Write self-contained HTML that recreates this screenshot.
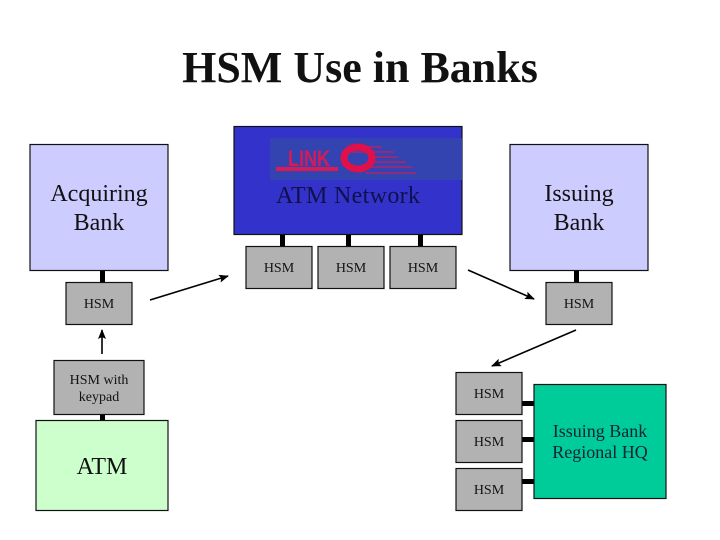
<!DOCTYPE html>
<html><head><meta charset="utf-8"><style>
html,body{margin:0;padding:0;background:#fff}
svg{display:block}
text{font-family:"Liberation Serif",serif;text-anchor:middle;fill:#111}
.h{font-size:14px}
.b{font-size:24px}
rect.g{fill:#b2b2b2;stroke:#111;stroke-width:1.2}
rect.k{fill:#000}
</style></head><body>
<svg width="720" height="540" viewBox="0 0 720 540" xmlns="http://www.w3.org/2000/svg">
<defs><marker id="a" markerWidth="10" markerHeight="8" refX="9" refY="4" orient="auto" markerUnits="userSpaceOnUse"><path d="M0 0L10 4L0 8L2 4Z" fill="#000"/></marker></defs>
<text x="360" y="82" style="font-size:44px;font-weight:bold">HSM Use in Banks</text>

<rect class="k" x="280" y="234" width="5" height="12"/><rect class="k" x="346" y="234" width="5" height="12"/><rect class="k" x="418" y="234" width="5" height="12"/>
<rect class="k" x="100" y="270" width="5" height="12"/><rect class="k" x="100" y="414" width="5" height="6"/><rect class="k" x="574" y="270" width="5" height="12"/>
<rect class="k" x="522" y="401" width="12" height="5"/><rect class="k" x="522" y="437" width="12" height="5"/><rect class="k" x="522" y="479" width="12" height="5"/>

<rect x="30" y="144.500" width="138" height="126" fill="#ccccff" stroke="#111" stroke-width="1.200"/>
<text class="b" x="99" y="201">Acquiring</text><text class="b" x="99" y="230">Bank</text>

<rect x="234" y="126.500" width="228" height="108" fill="#3333cc" stroke="#111" stroke-width="1.200"/>
<rect x="270" y="138" width="192" height="42" fill="#3344b0"/>
<g fill="#d81a55">
<rect x="276" y="167" width="62" height="4"/>
<rect x="350" y="146" width="32" height="2" opacity=".55"/><rect x="352" y="151" width="42" height="2" opacity=".55"/><rect x="368" y="156" width="30" height="2" opacity=".55"/><rect x="368" y="161" width="38" height="2" opacity=".55"/><rect x="368" y="166" width="44" height="2" opacity=".55"/><rect x="366" y="172" width="50" height="2" opacity=".55"/>
</g>
<text x="309" y="166" style="font-family:'Liberation Sans',sans-serif;font-size:22px;font-weight:bold;fill:#d81a55" textLength="42" lengthAdjust="spacingAndGlyphs">LINK</text>
<ellipse cx="358" cy="158" rx="14" ry="11" fill="none" stroke="#e0104a" stroke-width="7"/>
<text class="b" x="348" y="203" style="fill:#10104a" textLength="144" lengthAdjust="spacing">ATM Network</text>

<rect x="510" y="144.500" width="138" height="126" fill="#ccccff" stroke="#111" stroke-width="1.200"/>
<text class="b" x="579" y="201">Issuing</text><text class="b" x="579" y="230">Bank</text>

<rect class="g" x="246" y="246.500" width="66" height="42"/><text class="h" x="279" y="272">HSM</text>
<rect class="g" x="318" y="246.500" width="66" height="42"/><text class="h" x="351" y="272">HSM</text>
<rect class="g" x="390" y="246.500" width="66" height="42"/><text class="h" x="423" y="272">HSM</text>
<rect class="g" x="66" y="282.500" width="66" height="42"/><text class="h" x="99" y="308">HSM</text>
<rect class="g" x="546" y="282.500" width="66" height="42"/><text class="h" x="579" y="308">HSM</text>

<rect class="g" x="54" y="360.500" width="90" height="54"/>
<text class="h" x="99" y="384">HSM with</text><text class="h" x="99" y="401">keypad</text>

<rect x="36" y="420.500" width="132" height="90" fill="#ccffcc" stroke="#111" stroke-width="1.200"/>
<text class="b" x="102" y="474">ATM</text>

<rect class="g" x="456" y="372.500" width="66" height="42"/><text class="h" x="489" y="398">HSM</text>
<rect class="g" x="456" y="420.500" width="66" height="42"/><text class="h" x="489" y="446">HSM</text>
<rect class="g" x="456" y="468.500" width="66" height="42"/><text class="h" x="489" y="494">HSM</text>

<rect x="534" y="384.500" width="132" height="114" fill="#00cc99" stroke="#111" stroke-width="1.200"/>
<text x="600" y="437" style="font-size:18px;fill:#123">Issuing Bank</text><text x="600" y="458" style="font-size:18px;fill:#123">Regional HQ</text>

<g stroke="#000" stroke-width="1.600" fill="none" marker-end="url(#a)">
<line x1="102" y1="354" x2="102" y2="330"/>
<line x1="150" y1="300" x2="228" y2="276"/>
<line x1="468" y1="270" x2="534" y2="299"/>
<line x1="576" y1="330" x2="492" y2="366"/>
</g>
</svg>
</body></html>
